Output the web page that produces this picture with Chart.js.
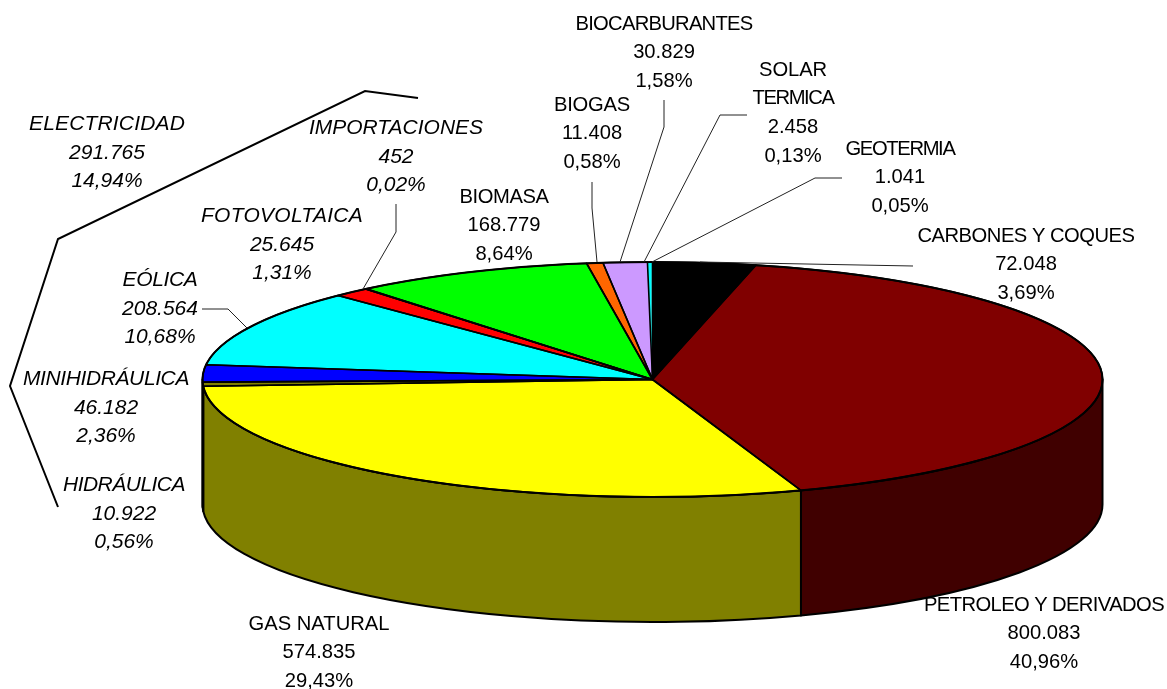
<!DOCTYPE html>
<html>
<head>
<meta charset="utf-8">
<style>html,body{margin:0;padding:0;background:#fff}canvas{display:block}</style>
<script src="https://cdn.jsdelivr.net/npm/chart.js@4/dist/chart.umd.min.js"></script>
</head>
<body>
<canvas id="c" width="1167" height="689"></canvas>
<script>
const categories = ['CARBONES Y COQUES','PETROLEO Y DERIVADOS','GAS NATURAL','HIDRÁULICA','MINIHIDRÁULICA','EÓLICA','FOTOVOLTAICA','IMPORTACIONES','BIOMASA','BIOGAS','BIOCARBURANTES','SOLAR TERMICA','GEOTERMIA'];
const values = [72048,800083,574835,10922,46182,208564,25645,452,168779,11408,30829,2458,1041];
const valueLabels = ['72.048','800.083','574.835','10.922','46.182','208.564','25.645','452','168.779','11.408','30.829','2.458','1.041'];
const percentLabels = ['3,69%','40,96%','29,43%','0,56%','2,36%','10,68%','1,31%','0,02%','8,64%','0,58%','1,58%','0,13%','0,05%'];
const topColors = ['#000000','#800000','#FFFF00','#808000','#0000FF','#00FFFF','#FF0000','#000000','#00FF00','#FF6600','#CC99FF','#00FFFF','#00FFFF'];
const sideColors = ['#000000','#400000','#808000','#404000','#000080','#008080','#800000','#000000','#008000','#803300','#664C80','#008080','#008080'];

// Layout of the annotations (not data); w = width of the name line(s)
const labelLayout = [
  {i:0, x:1026, y:236, w:[217]},
  {i:1, x:1044, y:605, w:[240]},
  {i:2, x:319, y:624, w:[141]},
  {i:3, x:124, y:485, it:1, w:[122]},
  {i:4, x:106, y:379, it:1, w:[166]},
  {i:5, x:160, y:280, it:1, w:[75]},
  {i:6, x:282, y:216, it:1, w:[162]},
  {i:7, x:396, y:128, it:1, w:[174]},
  {i:8, x:504, y:197, w:[89]},
  {i:9, x:592, y:105, w:[76]},
  {i:10, x:664, y:24, w:[177]},
  {i:11, x:793, y:70, lines:['SOLAR','TERMICA'], w:[68,81]},
  {i:12, x:900, y:149, w:[109]}
];
const groupLabel = {lines:['ELECTRICIDAD','291.765','14,94%'], x:107, y:124, w:[156]};
const bracket = [[418,98],[365,91],[58,239],[10,386],[58,507]];
const leaders = [
  [[913,266],[700,262]],
  [[842,178],[815,178],[652,262]],
  [[747,115],[720,115],[644,262]],
  [[664,100],[664,127],[620,262]],
  [[592,182],[592,208],[597,262]],
  [[396,204],[396,232],[363,289]],
  [[202,309],[228,309],[247,328]]
];
const tinyUnoutlined = [11,12];
const Rx = 450, Ry = 117.5, depth = 125, lineH = 28.8;
const FONT = '"Liberation Sans", Arial, sans-serif';

function poly(ctx, pts){
  ctx.beginPath();
  pts.forEach((p,k)=> k ? ctx.lineTo(p[0],p[1]) : ctx.moveTo(p[0],p[1]));
  ctx.stroke();
}
function textBlock(ctx, lines, x, y, italic, widths){
  ctx.font = (italic ? 'italic 21px ' : '20.2px ') + FONT;
  ctx.fillStyle = '#000';
  ctx.textAlign = 'center';
  ctx.textBaseline = 'middle';
  lines.forEach((t,k)=>{
    ctx.letterSpacing = '0px';
    if (widths && widths[k]) {
      const sp = (widths[k] - ctx.measureText(t).width) / t.length;
      ctx.letterSpacing = sp.toFixed(3) + 'px';
    }
    ctx.fillText(t, x, y + k*lineH);
  });
  ctx.letterSpacing = '0px';
}

const pie3d = {
  id:'pie3d',
  beforeDatasetsDraw(chart){
    const ctx = chart.ctx, arcs = chart.getDatasetMeta(0).data;
    const cx = arcs[0].x, cy = arcs[0].y, r = arcs[0].outerRadius;
    // wall of the disc: the part of each slice on the near half of the rim
    ctx.lineWidth = 2; ctx.strokeStyle = '#000'; ctx.lineJoin = 'round';
    arcs.forEach((a,i)=>{
      const s = Math.max(a.startAngle,0), e = Math.min(a.endAngle,Math.PI);
      if (e <= s) return;
      ctx.beginPath();
      ctx.ellipse(cx,cy,Rx,Ry,0,s,e);
      ctx.ellipse(cx,cy+depth,Rx,Ry,0,e,s,true);
      ctx.closePath();
      ctx.fillStyle = sideColors[i];
      ctx.fill(); ctx.stroke();
    });
    // squash the library's circular pie into the perspective ellipse
    ctx.save();
    ctx.translate(cx,cy); ctx.scale(Rx/r,Ry/r); ctx.translate(-cx,-cy);
  },
  afterDatasetsDraw(chart){
    const ctx = chart.ctx, arcs = chart.getDatasetMeta(0).data;
    ctx.restore();
    const cx = arcs[0].x, cy = arcs[0].y;
    ctx.lineWidth = 1.6; ctx.strokeStyle = '#000'; ctx.lineJoin = 'round';
    arcs.forEach((a,i)=>{
      if (tinyUnoutlined.includes(i)) return;
      ctx.beginPath();
      ctx.moveTo(cx,cy);
      ctx.ellipse(cx,cy,Rx,Ry,0,a.startAngle,a.endAngle);
      ctx.closePath();
      ctx.stroke();
    });
    ctx.lineWidth = 2;
    ctx.beginPath();
    ctx.ellipse(cx,cy,Rx,Ry,0,0,Math.PI*2);
    ctx.stroke();
  },
  afterDraw(chart){
    const ctx = chart.ctx;
    ctx.save();
    ctx.strokeStyle = '#222'; ctx.lineWidth = 1; ctx.lineJoin = 'miter';
    leaders.forEach(l=>poly(ctx,l));
    ctx.strokeStyle = '#000'; ctx.lineWidth = 2;
    poly(ctx,bracket);
    labelLayout.forEach(l=>{
      const lines = (l.lines || [categories[l.i]]).concat([valueLabels[l.i], percentLabels[l.i]]);
      textBlock(ctx, lines, l.x, l.y, l.it, l.w);
    });
    textBlock(ctx, groupLabel.lines, groupLabel.x, groupLabel.y, true, groupLabel.w);
    ctx.restore();
  }
};

new Chart(document.getElementById('c'), {
  type:'pie',
  data:{labels:categories, datasets:[{data:values, backgroundColor:topColors, borderWidth:0, hoverOffset:0, clip:false}]},
  options:{
    responsive:false, animation:false, events:[],
    layout:{padding:{left:138,top:70,right:0,bottom:0}},
    plugins:{legend:{display:false},tooltip:{enabled:false},title:{display:false}}
  },
  plugins:[pie3d]
});
</script>
</body>
</html>
